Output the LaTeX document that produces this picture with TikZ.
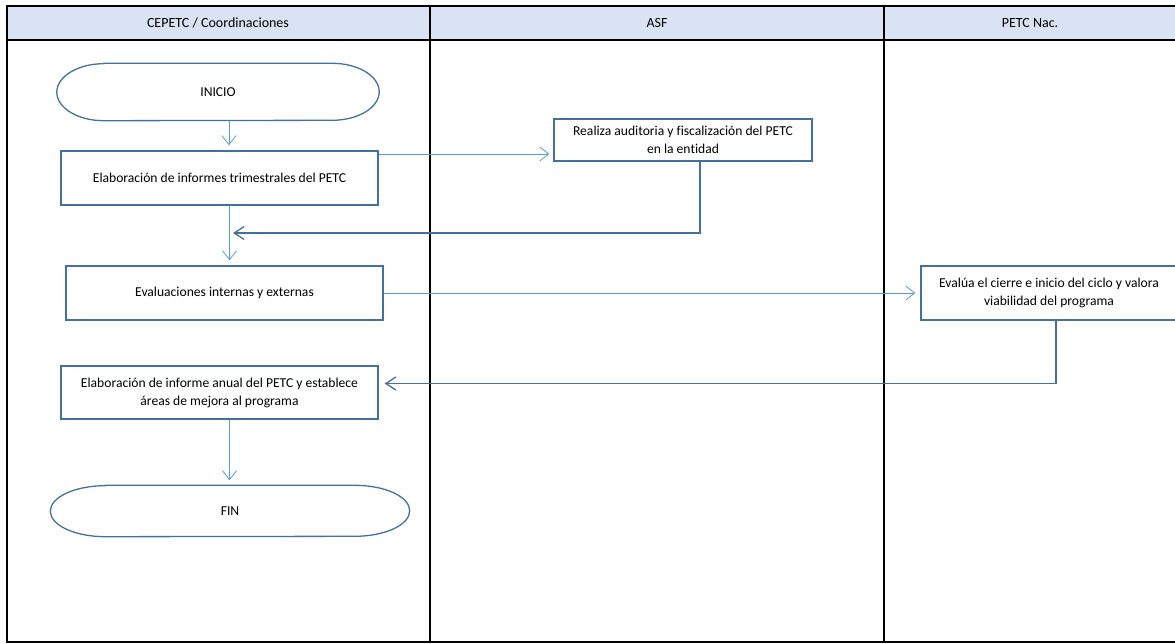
\documentclass[tikz,border=0pt]{standalone}
\usepackage{fontspec}
\setmainfont{Carlito}[Ligatures=NoCommon]
\usetikzlibrary{arrows.meta,positioning,calc}
\definecolor{boxcol}{RGB}{65,113,156}
\definecolor{flowcol}{RGB}{91,155,213}
\definecolor{headcol}{RGB}{218,227,243}

\begin{document}
\begin{tikzpicture}[x=1pt, y=-1pt,
  stepbox/.style={draw=boxcol, line width=1.3pt, fill=white, align=center,
                  font=\fontsize{13.6}{18}\selectfont, inner sep=2pt},
  terminal/.style={align=center, font=\fontsize{13.6}{18}\selectfont},
  term line/.style={draw=boxcol, line width=1.3pt},
  lane label/.style={font=\fontsize{14}{16}\selectfont},
  flow/.style={draw=flowcol, line width=0.8pt,
               -{Straight Barb[length=9pt,width=14pt]}, shorten >=5pt},
  back/.style={draw=boxcol, line width=1.3pt,
               -{Straight Barb[length=10pt,width=13pt]}}
]
  \useasboundingbox (0,0) rectangle (1175,644);

  % Swimlanes
  \fill[headcol] (7,6) rectangle (1180,40);
  \draw[line width=1.5pt] (1180,6) -- (7,6) -- (7,642) -- (1180,642);
  \draw[line width=1.5pt] (7,40) -- (1180,40);
  \foreach \x in {430,884} {
    \draw[line width=1.5pt] (\x,6) -- (\x,642);
  }
  \node[lane label] (lane1) at (218,23) {CEPETC / Coordinaciones};
  \node[lane label] (lane2) at (657,23) {ASF};
  \node[lane label] (lane3) at (1030,23) {PETC Nac.};

  % Steps
  \node[terminal, minimum width=322pt, minimum height=57pt] (inicio) at (218,92) {INICIO};
  \node[stepbox, minimum width=317pt, minimum height=54pt] (trim) at (219.5,178)
    {Elaboración de informes trimestrales del PETC};
  \node[stepbox, minimum width=258pt, minimum height=42pt] (audit) at (683,140)
    {Realiza auditoria y fiscalización del PETC\\en la entidad};
  \node[stepbox, minimum width=317pt, minimum height=54pt] (eval) at (224.5,293)
    {Evaluaciones internas y externas};
  \node[stepbox, minimum width=256pt, minimum height=54pt] (evalua) at (1049,293)
    {Evalúa el cierre e inicio del ciclo y valora\\viabilidad del programa};
  \node[stepbox, minimum width=317pt, minimum height=53pt] (anual) at (219.5,392.5)
    {Elaboración de informe anual del PETC y establece\\áreas de mejora al programa};
  \node[terminal, minimum width=359pt, minimum height=51pt] (fin) at (230,511) {FIN};

  % Terminal outlines (elliptic ends)
  \foreach \n/\rx/\ry in {inicio/47/28.5, fin/55/25.5} {
    \draw[term line] ([xshift=\rx pt]\n.north west) -- ([xshift=-\rx pt]\n.north east)
      arc[start angle=-90, end angle=90, x radius=\rx, y radius=\ry]
      -- ([xshift=\rx pt]\n.south west)
      arc[start angle=90, end angle=270, x radius=\rx, y radius=\ry] -- cycle;
  }

  % Connectors
  \coordinate (p1) at ([xshift=11pt]inicio.south);
  \draw[flow] (p1) -- (p1 |- trim.north);

  \coordinate (p2) at ([yshift=24pt]trim.east);
  \draw[flow, shorten >=4pt] (p2) -- (p2 -| audit.west);

  \coordinate (p3) at ([xshift=17pt]audit.south);
  \coordinate (j1) at (233,233);
  \draw[back] (p3) |- (j1);

  \coordinate (p4) at ([xshift=10pt]trim.south);
  \draw[flow] (p4) -- (p4 |- eval.north);

  \draw[flow] (eval.east) -- (evalua.west);

  \coordinate (p5) at ([xshift=7pt]evalua.south);
  \coordinate (p6) at ([xshift=6pt, yshift=9pt]anual.east);
  \draw[back] (p5) |- (p6);

  \coordinate (p7) at ([xshift=10pt]anual.south);
  \draw[flow] (p7) -- (p7 |- fin.north);
\end{tikzpicture}
\end{document}
